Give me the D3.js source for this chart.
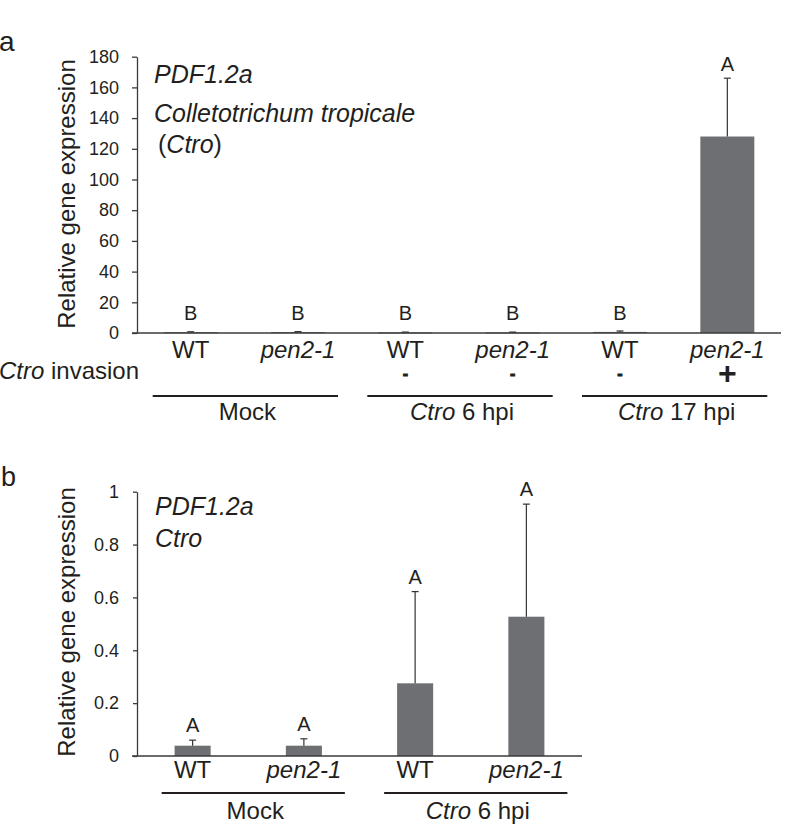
<!DOCTYPE html>
<html><head><meta charset="utf-8">
<script src="https://cdn.jsdelivr.net/npm/d3@7"></script>
<style>
body{margin:0;background:#fff}
text{font-family:"Liberation Sans",Arial,Helvetica,sans-serif;fill:#231f20}
</style></head><body>
<svg id="c" width="800" height="825"></svg>
<script>
// ---- data ----
const catsA = ["WT","pen2-1","WT","pen2-1","WT","pen2-1"];
const valsA = [0.5, 0.6, 0.4, 0.4, 0.7, 128];
const errA  = [0.3, 0.3, 0.2, 0.2, 0.6, 38];
const lettersA = ["B","B","B","B","B","A"];
const invasionA = ["","","-","-","-","+"];
const groupsA = [{label:"Mock", from:0, to:1},{label:"6 hpi", ctro:true, from:2, to:3},{label:"17 hpi", ctro:true, from:4, to:5}];
const ticksA = [0,20,40,60,80,100,120,140,160,180];

const catsB = ["WT","pen2-1","WT","pen2-1"];
const valsB = [0.039, 0.039, 0.275, 0.527];
const errB  = [0.021, 0.026, 0.347, 0.426];
const lettersB = ["A","A","A","A"];
const groupsB = [{label:"Mock", from:0, to:1},{label:"6 hpi", ctro:true, from:2, to:3}];
const ticksB = [0,0.2,0.4,0.6,0.8,1];

const svg = d3.select("#c");
const barColor = "#6e6f73";
const axisColor = "#3a3a3a";
const labelSize = "24px";

function italicLabel(sel, txt){
  if(txt === "WT"){ sel.text("WT"); } else { sel.style("font-style","italic").text(txt); }
}

function panel(o){
  const g = svg.append("g");
  const x = d3.scaleBand().domain(d3.range(o.cats.length)).range([137, o.xEnd]).paddingInner(o.pad).paddingOuter(o.pad/2);
  const y = d3.scaleLinear().domain([0, o.yMax]).range([o.y0, o.yTop]);

  // y axis
  const ax = g.append("g").attr("transform","translate(137,0)")
    .call(d3.axisLeft(y).tickValues(o.ticks).tickSize(o.tickSize).tickPadding(o.tickPad).tickSizeOuter(0).tickFormat(d3.format("")));
  ax.selectAll("path,line").attr("stroke",axisColor).attr("stroke-width",1.3);
  ax.selectAll("text").style("font-size","18px").attr("fill","#231f20");

  // bars
  g.selectAll("rect.bar").data(o.vals).join("rect")
    .attr("x",(d,i)=>x(i)).attr("width",x.bandwidth())
    .attr("y",d=>y(d)).attr("height",d=>Math.max(1,y(0)-y(d)))
    .attr("fill",barColor);

  // error bars
  o.vals.forEach((v,i)=>{
    const cx = x(i)+x.bandwidth()/2;
    g.append("line").attr("x1",cx).attr("x2",cx).attr("y1",y(v)).attr("y2",y(v+o.err[i])).attr("stroke","#333").attr("stroke-width",1.2);
    g.append("line").attr("x1",cx-3.5).attr("x2",cx+3.5).attr("y1",y(v+o.err[i])).attr("y2",y(v+o.err[i])).attr("stroke","#333").attr("stroke-width",1.2);
    g.append("text").attr("x",cx).attr("y",Math.min(y(v+o.err[i])-o.letGap, y(0)-13))
      .attr("text-anchor","middle").style("font-size","20px").text(o.letters[i]);
  });

  // x axis line
  g.append("line").attr("x1",132).attr("x2",o.xEnd).attr("y1",y(0)).attr("y2",y(0)).attr("stroke",axisColor).attr("stroke-width",1.3);

  // category labels
  o.cats.forEach((c,i)=>{
    const t = g.append("text").attr("x",x(i)+x.bandwidth()/2).attr("y",o.catY).attr("text-anchor","middle").style("font-size",labelSize);
    italicLabel(t,c);
  });

  // group lines and labels
  o.groups.forEach(gr=>{
    const x1 = x(gr.from)+x.bandwidth()/2 - o.lineL;
    const x2 = x(gr.to)+x.bandwidth()/2 + o.lineR;
    g.append("line").attr("x1",x1).attr("x2",x2).attr("y1",o.lineY).attr("y2",o.lineY).attr("stroke","#231f20").attr("stroke-width",2);
    const t = g.append("text").attr("x",(x1+x2)/2+2).attr("y",o.grpY).attr("text-anchor","middle").style("font-size",labelSize);
    if(gr.ctro){ t.append("tspan").style("font-style","italic").text("Ctro"); t.append("tspan").text(" "+gr.label); }
    else t.text(gr.label);
  });

  // y title
  g.append("text").attr("transform",`translate(75,${o.titleY}) rotate(-90)`).attr("text-anchor","middle")
    .style("font-size","24px").text("Relative gene expression");
  return {g,x,y};
}

const A = panel({cats:catsA, vals:valsA, err:errA, letters:lettersA, groups:groupsA, ticks:ticksA,
  yMax:180, y0:333, yTop:56.7, xEnd:781, pad:0.497, tickSize:5, tickPad:13, letGap:7,
  catY:358, lineY:396, grpY:420, lineL:38, lineR:40, titleY:194});

// invasion row
A.g.append("text").attr("x",-1).attr("y",379).style("font-size",labelSize)
  .call(t=>{t.append("tspan").style("font-style","italic").text("Ctro"); t.append("tspan").text(" invasion");});
invasionA.forEach((s,i)=>{
  if(!s) return;
  const cx = A.x(i)+A.x.bandwidth()/2;
  if(s==="+") A.g.append("text").attr("x",cx).attr("y",384).attr("text-anchor","middle").style("font-size","32px").style("font-weight","bold").text("+");
  else A.g.append("text").attr("x",cx).attr("y",378.5).attr("text-anchor","middle").style("font-size","16px").style("font-weight","bold")
        .attr("stroke","#231f20").attr("stroke-width",0.9).text("-");
});

// panel a annotations
svg.append("text").attr("x",-1).attr("y",51).style("font-size","28px").text("a");
svg.append("text").attr("x",154).attr("y",83).style("font-size","25px").style("font-style","italic").text("PDF1.2a");
svg.append("text").attr("x",154).attr("y",122).style("font-size","25px").style("font-style","italic").text("Colletotrichum tropicale");
svg.append("text").attr("x",158).attr("y",153).style("font-size","25px")
  .call(t=>{t.append("tspan").text("("); t.append("tspan").style("font-style","italic").text("Ctro"); t.append("tspan").text(")");});

const B = panel({cats:catsB, vals:valsB, err:errB, letters:lettersB, groups:groupsB, ticks:ticksB,
  yMax:1, y0:756, yTop:491.7, xEnd:582, pad:0.676, tickSize:4, tickPad:14, letGap:8,
  catY:778, lineY:793, grpY:819, lineL:31, lineR:41, titleY:622});

svg.append("text").attr("x",1).attr("y",486).style("font-size","27px").text("b");
svg.append("text").attr("x",155).attr("y",515).style("font-size","25px").style("font-style","italic").text("PDF1.2a");
svg.append("text").attr("x",155).attr("y",547).style("font-size","25px").style("font-style","italic").text("Ctro");
</script></body></html>
